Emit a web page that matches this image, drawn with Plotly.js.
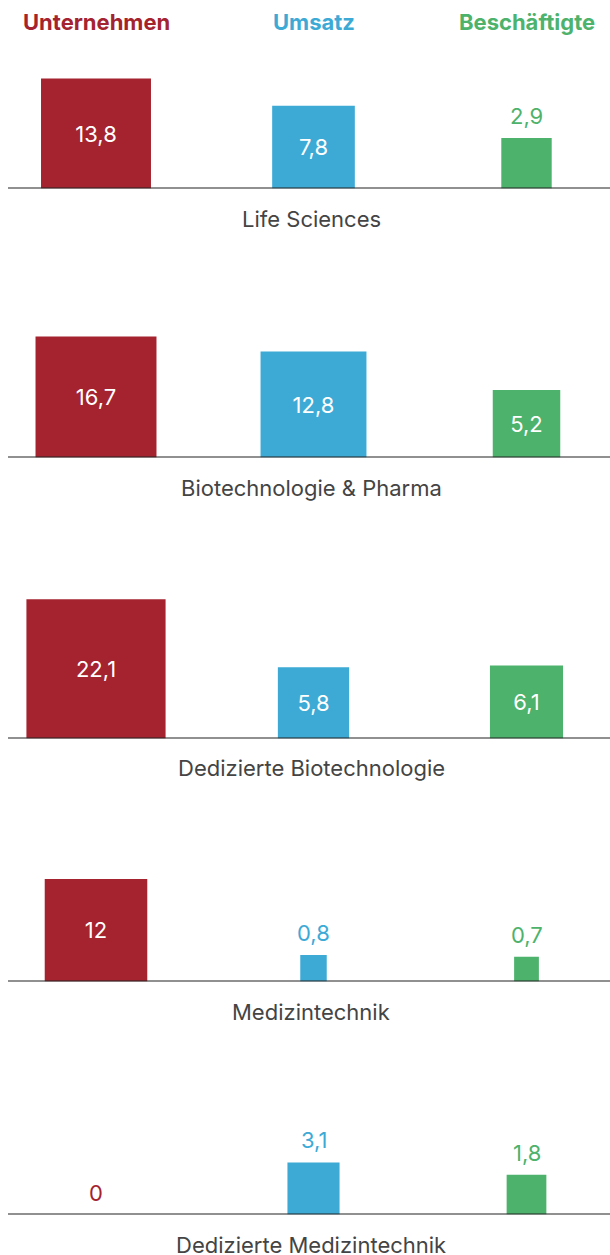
<!DOCTYPE html>
<html>
<head>
<meta charset="utf-8">
<script src="https://cdn.plot.ly/plotly-3.0.1.min.js"></script>
<style>html,body{margin:0;padding:0;background:#fff;}#chart{width:610px;height:1255px;}</style>
</head>
<body>
<div id="chart"></div>
<script>
// ---- data ----
var categories = ['Life Sciences', 'Biotechnologie & Pharma', 'Dedizierte Biotechnologie', 'Medizintechnik', 'Dedizierte Medizintechnik'];
var seriesNames = ['Unternehmen', 'Umsatz', 'Beschäftigte'];
var unternehmen = [13.8, 16.7, 22.1, 12, 0];
var umsatz = [7.8, 12.8, 5.8, 0.8, 3.1];
var beschaeftigte = [2.9, 5.2, 6.1, 0.7, 1.8];

// ---- styling / layout ----
var W = 610, H = 1255;
var colors = ['#A4232F', '#3DAAD6', '#4DB26B'];
var colX = [96, 313.5, 526.5];          // column centres (x axis in px units)
var baselines = [188.5, 457.5, 738.5, 981.5, 1214.5]; // px from top
var panelH = 170;                        // px height of each panel's y range
var k = 29.6;                            // px per sqrt(unit): square area ~ value
var FONT = 'Inter, "Open Sans", sans-serif';

function fmt(v) { return String(v).replace('.', ','); }

var seriesVals = [unternehmen, umsatz, beschaeftigte];
var traces = [], annotations = [], shapes = [];
var layout = {
  width: W, height: H,
  margin: {l: 0, r: 0, t: 0, b: 0},
  paper_bgcolor: '#fff', plot_bgcolor: '#fff',
  showlegend: false,
  barmode: 'overlay',
  font: {family: FONT},
  xaxis: {range: [0, W], visible: false, fixedrange: true}
};

categories.forEach(function (cat, i) {
  var yName = i === 0 ? 'y' : 'y' + (i + 1);
  var axKey = i === 0 ? 'yaxis' : 'yaxis' + (i + 1);
  var b = baselines[i];
  layout[axKey] = {
    domain: [(H - b) / H, (H - b + panelH) / H],
    range: [0, panelH],
    visible: false, fixedrange: true, zeroline: false
  };
  var vals = seriesVals.map(function (s) { return s[i]; });
  var sides = vals.map(function (v) { return k * Math.sqrt(v); });
  var inside = vals.map(function (v) { return v > 4; });
  traces.push({
    type: 'bar',
    x: colX, y: sides, width: sides,
    xaxis: 'x', yaxis: yName,
    marker: {color: colors, line: {width: 0}},
    text: vals.map(function (v, j) { return inside[j] ? fmt(v) : ''; }),
    textposition: inside.map(function (f) { return f ? 'inside' : 'none'; }),
    insidetextanchor: 'middle',
    insidetextfont: {family: FONT, size: 22, color: '#ffffff'},
    constraintext: 'none',
    hoverinfo: 'skip'
  });
  // outside value labels
  vals.forEach(function (v, j) {
    if (!inside[j]) {
      annotations.push({
        x: colX[j], xref: 'x', y: sides[j], yref: yName,
        text: fmt(v), showarrow: false, yanchor: 'bottom', yshift: 7,
        font: {family: FONT, size: 22, color: colors[j]}
      });
    }
  });
  // baseline
  shapes.push({
    type: 'line', xref: 'paper', x0: 8 / W, x1: 1, yref: yName, y0: 0, y1: 0,
    line: {color: '#222222', width: 2}
  });
  // category label
  annotations.push({
    x: 311, xref: 'x', y: 0, yref: yName, yanchor: 'middle', yshift: -30,
    text: cat, showarrow: false,
    font: {family: FONT, size: 22, color: '#444444'}
  });
});

// headers
seriesNames.forEach(function (n, j) {
  annotations.push({
    x: colX[j], xref: 'x', y: (H - 22) / H, yref: 'paper', yanchor: 'middle',
    text: n, showarrow: false,
    font: {family: FONT, size: 22, color: colors[j], weight: 'bold'}
  });
});

layout.annotations = annotations;
layout.shapes = shapes;

Plotly.newPlot('chart', traces, layout, {staticPlot: true, displayModeBar: false});
</script>
</body>
</html>
